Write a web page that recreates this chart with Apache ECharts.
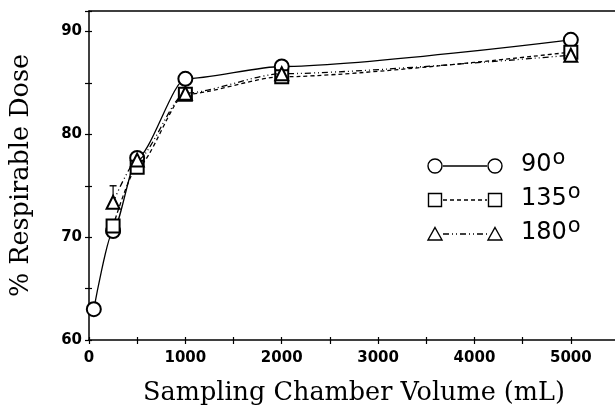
<!DOCTYPE html>
<html>
<head>
<meta charset="utf-8">
<script src="https://cdn.jsdelivr.net/npm/echarts@6/dist/echarts.min.js"></script>
<style>
  html, body { margin: 0; padding: 0; background: #fff; }
  #chart { width: 615px; height: 406px; }
</style>
</head>
<body>
<div id="chart"></div>
<script>
// volumes (mL) and % respirable dose
const vol90 = [50, 250, 500, 1000, 2000, 5000];
const dose90 = [63.0, 70.6, 77.7, 85.4, 86.6, 89.2];
const vol135 = [250, 500, 1000, 2000, 5000];
const dose135 = [71.1, 76.8, 83.9, 85.6, 88.0];
const vol180 = [250, 500, 1000, 2000, 5000];
const dose180 = [73.4, 77.5, 84.0, 85.9, 87.7];
// error bar on the 180 deg point at 250 mL
const errVol = [250];
const errLow = [73.4];
const errHigh = [75.0];

const legendNames = ['90', '135', '180'];

const pairs = (xs, ys) => xs.map((x, i) => [x, ys[i]]);

const chart = echarts.init(document.getElementById('chart'));

const lineW = 1.3;
const styles = [
  { symbol: 'emptyCircle', size: 14, dash: 'solid' },
  { symbol: 'emptyRect', size: 13, dash: [4, 3] },
  { symbol: 'emptyTriangle', size: 13, dash: [6, 3, 1, 3, 1, 3] },
];

const axisBase = {
  type: 'value',
  splitLine: { show: false },
  axisLine: { show: true, onZero: false, lineStyle: { color: '#000', width: 1.5 } },
  axisTick: { show: true, length: 4, lineStyle: { color: '#000', width: 1.2 } },
};

// legend drawn as graphic: symbol -- line -- symbol  label
const measure = document.createElement('canvas').getContext('2d');
measure.font = '24px "DejaVu Sans"';
const rowY = [166, 200, 234];
const legendGraphics = [];
legendNames.forEach((name, i) => {
  const y = rowY[i];
  const st = styles[i];
  const sym = (cx) => {
    if (i === 0) return { type: 'circle', shape: { cx: cx, cy: y, r: 7 }, style: { fill: '#fff', stroke: '#000', lineWidth: 1.4 } };
    if (i === 1) return { type: 'rect', shape: { x: cx - 6.5, y: y - 6.5, width: 13, height: 13 }, style: { fill: '#fff', stroke: '#000', lineWidth: 1.4 } };
    return { type: 'polygon', shape: { points: [[cx, y - 6.5], [cx + 7, y + 6], [cx - 7, y + 6]] }, style: { fill: '#fff', stroke: '#000', lineWidth: 1.4 } };
  };
  legendGraphics.push({
    type: 'line', shape: { x1: 443, y1: y, x2: 487, y2: y },
    style: { stroke: '#000', lineWidth: lineW, lineDash: st.dash === 'solid' ? null : st.dash }
  });
  legendGraphics.push(sym(435));
  legendGraphics.push(sym(495));
  legendGraphics.push({
    type: 'text', left: 521, top: y - 13,
    style: { text: name, font: '24px "DejaVu Sans"', fill: '#000' }
  });
  const w = measure.measureText(name).width;
  legendGraphics.push({
    type: 'text', left: 521 + w + 1, top: y - 18,
    style: { text: 'o', font: '21px "DejaVu Sans"', fill: '#000' }
  });
});

const option = {
  animation: false,
  backgroundColor: '#fff',
  grid: { left: 89, top: 11, right: -4, bottom: 66, outerBoundsMode: 'none' },
  xAxis: [
    Object.assign({}, axisBase, {
      min: 0, max: 5500, interval: 500,
      position: 'bottom',
      name: 'Sampling Chamber Volume (mL)',
      nameLocation: 'middle',
      nameGap: 40,
      nameTextStyle: { fontFamily: 'DejaVu Serif', fontSize: 25.5, color: '#000' },
      axisLabel: {
        margin: 11,
        fontFamily: 'DejaVu Sans', fontSize: 15, fontWeight: 'bold', color: '#000',
        formatter: v => (v % 1000 === 0 && v <= 5000) ? String(v) : ''
      },
    }),
    Object.assign({}, axisBase, {
      min: 0, max: 5500, interval: 500,
      position: 'bottom',
      axisLine: { show: false },
      axisTick: { show: true, inside: true, length: 3, lineStyle: { color: '#000', width: 1.2 } },
      axisLabel: { show: false },
    }),
    Object.assign({}, axisBase, {
      min: 0, max: 5500,
      position: 'top',
      axisTick: { show: false },
      axisLabel: { show: false },
    }),
  ],
  yAxis: [
    Object.assign({}, axisBase, {
      min: 60, max: 92, interval: 5,
      name: '% Respirable Dose',
      nameLocation: 'middle',
      nameGap: 55,
      nameTextStyle: { fontFamily: 'DejaVu Serif', fontSize: 25.5, color: '#000' },
      axisLabel: {
        margin: 7,
        fontFamily: 'DejaVu Sans', fontSize: 15, fontWeight: 'bold', color: '#000',
        formatter: v => (v % 10 === 0) ? String(v) : ''
      },
    }),
    Object.assign({}, axisBase, {
      min: 60, max: 92, interval: 5,
      position: 'left',
      axisLine: { show: false },
      axisTick: { show: true, inside: true, length: 3, lineStyle: { color: '#000', width: 1.2 } },
      axisLabel: { show: false },
    }),
  ],
  graphic: legendGraphics,
  series: [
    {
      type: 'custom',
      z: 1,
      data: errVol.map((x, i) => [x, errLow[i], errHigh[i]]),
      renderItem: (params, api) => {
        const lo = api.coord([api.value(0), api.value(1)]);
        const hi = api.coord([api.value(0), api.value(2)]);
        return {
          type: 'group',
          children: [
            { type: 'line', shape: { x1: lo[0], y1: lo[1], x2: hi[0], y2: hi[1] }, style: { stroke: '#000', lineWidth: 1.2 } },
            { type: 'line', shape: { x1: hi[0] - 3.5, y1: hi[1], x2: hi[0] + 3.5, y2: hi[1] }, style: { stroke: '#000', lineWidth: 1.4 } },
          ]
        };
      }
    },
  ].concat([
    pairs(vol90, dose90),
    pairs(vol135, dose135),
    pairs(vol180, dose180),
  ].map((data, i) => ({
    name: legendNames[i],
    type: 'line',
    z: 2 + i,
    data: data,
    smooth: 0.25,
    smoothMonotone: 'x',
    symbol: styles[i].symbol,
    symbolSize: styles[i].size,
    showAllSymbol: true,
    lineStyle: { color: '#000', width: lineW, type: styles[i].dash },
    itemStyle: { color: '#000', borderColor: '#000', borderWidth: 1.4 },
  }))),
};

chart.setOption(option);
</script>
</body>
</html>
